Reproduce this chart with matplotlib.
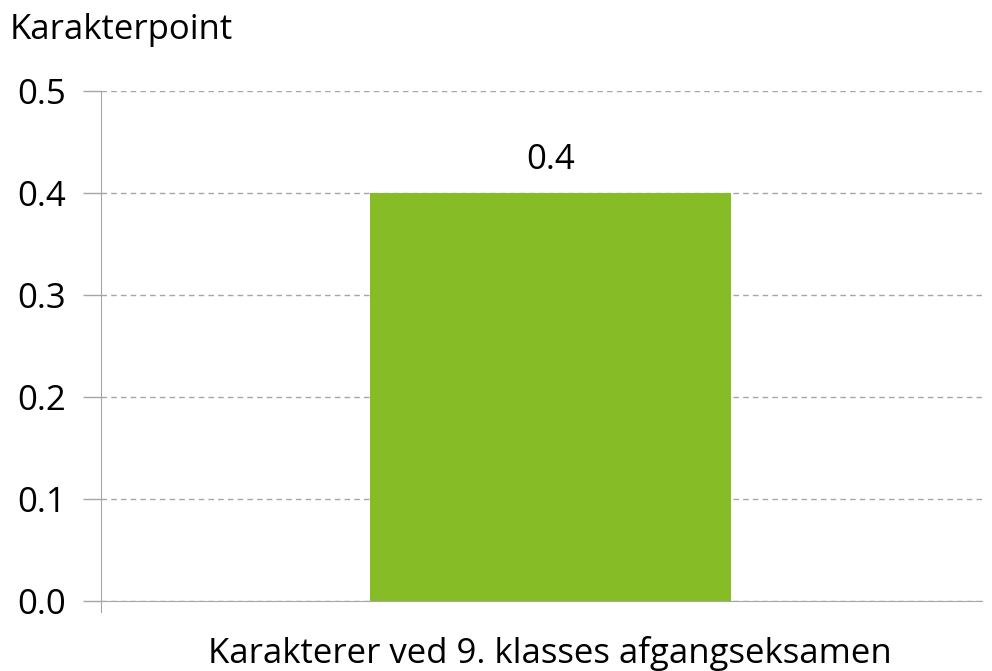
import matplotlib
matplotlib.use("Agg")
import matplotlib.pyplot as plt

categories = ["Karakterer ved 9. klasses afgangseksamen"]
values = [0.4]
value_labels = ["0.4"]
yticks = [0.0, 0.1, 0.2, 0.3, 0.4, 0.5]
ytick_labels = ["0.0", "0.1", "0.2", "0.3", "0.4", "0.5"]
y_title = "Karakterpoint"

plt.rcParams['font.family'] = ['Open Sans', 'DejaVu Sans']
FS = 25

fig = plt.figure(figsize=(9.92, 6.71), dpi=100)
ax = fig.add_axes([101/992, 1 - 601/671, (982-101)/992, (601-91)/671])

x = list(range(len(categories)))
bars = ax.bar(x, values, width=0.41, color="#86bc26", zorder=3)
for xi, v, lab in zip(x, values, value_labels):
    ax.text(xi, v + 0.016, lab, ha="center", va="bottom", fontsize=FS, color="black")

ax.set_xlim(-0.51, len(categories) - 0.51)
ax.set_ylim(0, 0.5)
ax.set_yticks(yticks)
ax.set_yticklabels(ytick_labels)
ax.set_xticks(x)
ax.set_xticklabels(categories)
ax.tick_params(axis="x", length=0, pad=25, labelsize=FS)
ax.tick_params(axis="y", length=13, color="#a6a6a6", width=1, pad=12, labelsize=FS)

ax.yaxis.grid(True, linestyle=(0, (4, 3)), color="#a6a6a6", linewidth=1, zorder=0)
for s in ["top", "right"]:
    ax.spines[s].set_visible(False)
ax.spines["left"].set_color("#a6a6a6")
ax.spines["bottom"].set_color("#a6a6a6")
ax.spines["left"].set_bounds(-0.011, 0.5)

fig.text(10/992, 1 - 30/671, y_title, fontsize=FS, ha="left", va="center")

fig.savefig("out.png", dpi=100)
